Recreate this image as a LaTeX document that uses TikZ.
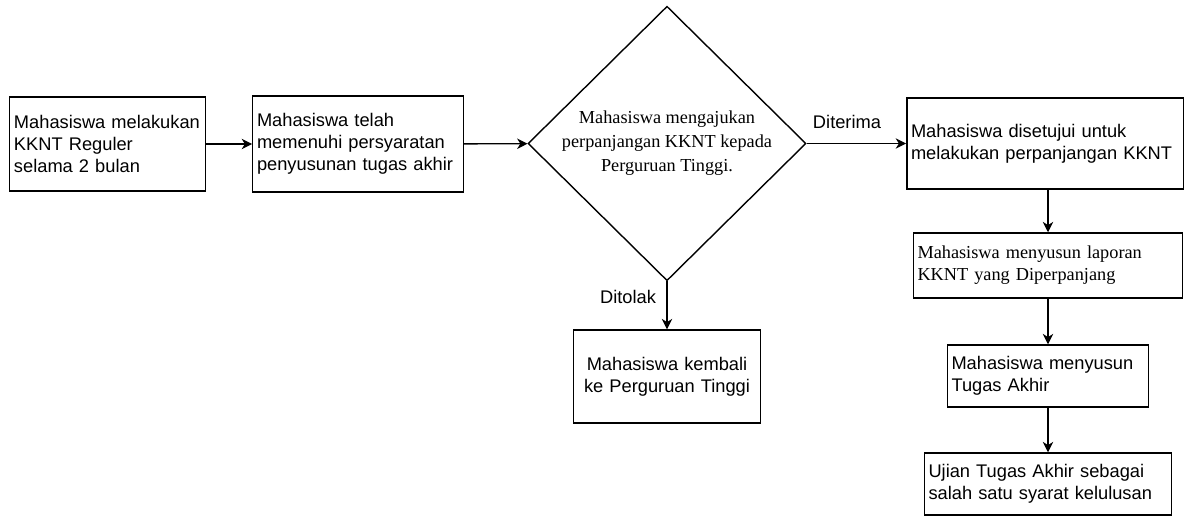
\documentclass[tikz,border=0pt]{standalone}
\usepackage{fontspec}
\setmainfont{Liberation Sans}
\newfontfamily\timesfont{Liberation Serif}
\usetikzlibrary{shapes.geometric, arrows.meta}

\begin{document}
\begin{tikzpicture}[line width=1pt,
  every node/.style={font=\fontsize{13}{15.5}\selectfont},
  box/.style={draw,rectangle,inner xsep=3pt,inner ysep=0pt,align=left},
  cbox/.style={draw,rectangle,inner xsep=3pt,inner ysep=0pt,align=center},
  dec/.style={draw,shape=diamond,inner sep=0pt,align=center,font=\timesfont\fontsize{13}{17}\selectfont},
  lbl/.style={inner sep=0pt},
  flow/.style={-{Stealth[length=0.26cm,width=0.26cm,inset=0.08cm]}}]
  \useasboundingbox (0,0) rectangle (29.6,13);
  % main row
  \path (2.6875,9.4) node[box,text width=4.675cm,minimum height=2.35cm] (reg) {Mahasiswa melakukan\\KKNT Reguler\\selama 2 bulan}
  (8.95,9.4) node[box,text width=5.05cm,minimum height=2.4cm] (syarat) {Mahasiswa telah\\memenuhi persyaratan\\penyusunan tugas akhir}
  (16.675,9.4125) node[dec,minimum width=6.95cm,minimum height=6.725cm] (aju) {Mahasiswa mengajukan\\perpanjangan KKNT kepada\\Perguruan Tinggi.}
  (26.125,9.4125) node[box,text width=6.7cm,minimum height=2.275cm] (setuju) {Mahasiswa disetujui untuk\\melakukan perpanjangan KKNT};
  % right column
  \path (26.2,6.3625) node[box,text width=6.525cm,minimum height=1.625cm,font=\timesfont\fontsize{13}{15.5}\selectfont] (lapor) {Mahasiswa menyusun laporan\\KKNT yang Diperpanjang}
  (26.2,3.6) node[box,text width=4.825cm,minimum height=1.55cm] (ta) {Mahasiswa menyusun\\Tugas Akhir}
  (26.2,0.9) node[box,text width=5.975cm,minimum height=1.55cm] (uji) {Ujian Tugas Akhir sebagai\\salah satu syarat kelulusan};
  % rejected
  \path (16.675,3.5875) node[cbox,text width=4.475cm,minimum height=2.325cm] (kembali) {Mahasiswa kembali\\ke Perguruan Tinggi};
  \path (21.175,9.95) node[lbl] (terima) {Diterima}
  (15.7,5.575) node[lbl] (tolak) {Ditolak};
  \draw[flow] (reg) -- (syarat);
  \draw[flow] (syarat) -- (aju);
  \draw[flow] (aju.east) -- (setuju.west |- aju.east);
  \draw[flow] (aju.south) -- (kembali.north);
  \draw[flow] (lapor.north |- setuju.south) -- (lapor.north);
  \draw[flow] (lapor) -- (ta);
  \draw[flow] (ta) -- (uji);
\end{tikzpicture}
\end{document}
